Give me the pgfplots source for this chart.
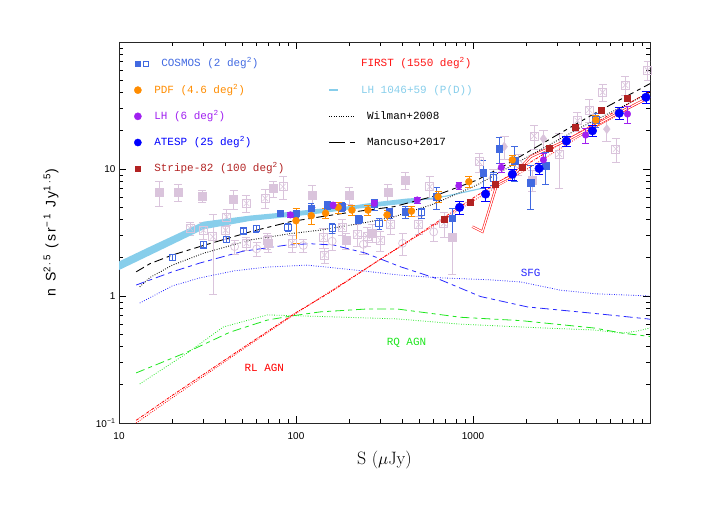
\documentclass[border=0pt]{standalone}
\usepackage{pgfplots}
\pgfplotsset{compat=1.18}
\usepackage{pgfplotstable}
\usepackage{fontspec}
\newfontfamily\monof{Liberation Mono}
\newfontfamily\sansf{Liberation Sans}
\newfontfamily\sanslab[LetterSpace=18]{Liberation Sans}
\definecolor{cosmos}{RGB}{65,105,225}
\definecolor{pdf}{RGB}{255,140,0}
\definecolor{lhc}{RGB}{160,32,240}
\definecolor{atesp}{RGB}{0,0,255}
\definecolor{sk}{RGB}{178,34,34}
\definecolor{first}{RGB}{255,20,20}
\definecolor{pdband}{RGB}{135,206,235}
\definecolor{bg}{RGB}{218,196,220}
\definecolor{sfg}{RGB}{40,40,255}
\definecolor{rq}{RGB}{30,230,30}
\definecolor{rl}{RGB}{255,0,0}

% background compilation
\pgfplotstableread{
x y ep em
16.9 6.55 1.5 1.5
21.5 6.55 1.0 1.0
29.6 6.16 0.7 0.7
44.4 5.8 1.0 1.0
74.1 7.05 1.0 1.0
123 6.24 1.2 1.2
199 6.24 1.0 1.0
330 6.62 1.0 1.0
415 8.18 1.3 1.3
69.5 2.62 0.4 0.4
191 2.75 0.4 0.4
269 3.15 0.5 0.5
764 2.88 1.3 1.4
2150 8.2 1.5 1.5
}\bgsq
\pgfplotstableread{
x y ep em
25.2 3.41 0.4 0.4
33.9 2.93 1.5 1.9
40.6 4.2 0.6 0.6
52.5 5.37 0.8 0.8
67 5.88 1.0 1.0
68.5 2.75 0.4 0.4
94.9 2.6 0.4 0.4
52.5 2.6 0.3 0.3
143 2.89 0.5 0.5
182 3.5 0.5 0.5
221 3.05 0.6 0.6
300 2.75 0.5 0.5
342 3.64 0.6 0.6
494 3.64 0.6 0.6
684 3.73 0.8 0.8
145 2.1 0.3 0.3
252 2.96 0.5 0.5
1080 11.4 2 2
2213 18.2 4 4
3070 13.1 6 6
3890 24 4 4
4530 29.2 6 6
5400 40.2 6 6
6410 14.4 3 3
7250 45.8 8 8
9680 60 10 10
570 7.26 1.5 1.5
84.3 7.26 1.5 1.5
30 3.3 0.5 0.5
40 3.3 0.5 0.5
}\bgx
\pgfplotstableread{
x y ep em
45 2.45 0.3 0.3
60 2.35 0.3 0.3
110 2.5 0.3 0.3
160 2.7 0.4 0.4
240 2.55 0.4 0.4
400 2.6 0.5 0.5
600 3.2 0.5 0.5
1300 8.5 1.5 1.5
1800 11 2 2
}\bgo
\pgfplotstableread{
x y ep em
2500 17.3 3 3
5700 20.6 4 4
1500 15 3 3
}\bgd
% COSMOS open
\pgfplotstableread{
x y ep em
20.1 2.02 0.1 0.1
30 2.55 0.15 0.15
40.4 2.79 0.15 0.15
50.6 3.25 0.15 0.15
59.6 3.39 0.2 0.2
90 3.47 0.25 0.25
160 3.45 0.3 0.3
294 3.73 0.35 0.35
512 4.53 0.4 0.4
1306 8.5 1.0 1.0
4940 24.3 3 3
}\coso
% COSMOS filled
\pgfplotstableread{
x y ep em
81.5 4.48 0.2 0.2
100 4.48 0.3 0.3
122 4.9 0.45 0.45
151 5.2 0.4 0.4
182 5.05 0.4 0.4
226 4.04 0.3 0.3
277 5.27 0.5 0.5
337 4.53 0.4 0.4
415 4.61 0.5 0.5
622 6.05 1.2 1.2
764 4.08 0.8 1.2
1142 9.35 2.3 2.3
1403 14.4 3.3 3.3
1720 11.6 3.5 3.6
2118 7.8 2.9 3.0
2570 10.6 3 3
}\cosf
\pgfplotstableread{
x y ep em
100 3.92 1.0 1.3
122 4.29 0.6 0.6
147 4.48 0.4 0.4
173 4.99 0.5 0.5
207 4.75 0.4 0.4
255 4.75 0.4 0.4
327 4.35 0.4 0.4
449 4.66 0.4 0.4
635 6.05 0.6 0.6
948 7.94 0.8 0.8
1668 11.8 1 1
4940 24.3 2 2
}\pdft
\pgfplotstableread{
x y ep em
92.9 4.35 0.2 0.2
162 5.2 0.3 0.3
277 5.37 0.3 0.3
484 5.7 0.3 0.3
832 7.38 0.5 0.5
1445 10.3 0.8 0.8
2500 11.8 1.5 1.5
4330 18.5 2.5 2.5
7460 27.1 4 4
}\lht
\pgfplotstableread{
x y ep em
840 4.99 0.6 0.6
1178 6.35 0.8 0.8
1668 9.09 0.9 0.9
2362 10.1 1 1
3370 16.6 1.5 1.5
4730 20.0 2 2
6700 27.5 3 3
9480 36.7 4 4
}\atespt
\pgfplotstableread{
x y ep em
684 4.04 0.2 0.2
960 5.47 0.3 0.3
1343 7.62 0.3 0.3
1900 10.4 0.4 0.4
2690 14.6 0.5 0.5
3780 21.5 0.7 0.7
5270 29.2 1 1
7400 36 1.2 1.2
}\skt

\begin{document}
\begin{tikzpicture}
\useasboundingbox (-119bp,-89bp) rectangle (606bp,423bp);
\begin{axis}[
  scale only axis, width=531bp, height=381bp, at={(0,0)}, anchor=south west,
  xmode=log, ymode=log, xmin=10, xmax=10000, ymin=0.1, ymax=100,
  xtick={10,100,1000}, xticklabels={10,100,1000},
  minor xtick={20,30,40,50,60,70,80,90,200,300,400,500,600,700,800,900,2000,3000,4000,5000,6000,7000,8000,9000},
  ytick={0.1,1,10,100}, yticklabels={10\textsuperscript{−1},1,10,{}},
  minor ytick={0.2,0.3,0.4,0.5,0.6,0.7,0.8,0.9,2,3,4,5,6,7,8,9,20,30,40,50,60,70,80,90},
  tick align=inside, major tick length=7bp, minor tick length=4bp,
  tick style={black, line width=0.6bp},
  axis line style={line width=0.9bp, black!85},
  tick label style={font=\sansf\fontsize{10}{12}\selectfont},
  xticklabel style={yshift=-6bp},
  xlabel={S ($\mu$Jy)},
  xlabel style={font=\fontsize{18}{20}\selectfont, at={(axis description cs:0.5,-0.097)}, anchor=center},
  ylabel={n S\textsuperscript{2.5} (sr\textsuperscript{−1} Jy\textsuperscript{1.5})},
  ylabel style={font=\sanslab\fontsize{14}{16}\selectfont, at={(axis description cs:-0.128,0.5)}, anchor=center},
  legend columns=2,
  legend cell align=left,
  legend style={at={(axis description cs:0.028,0.96)}, anchor=north west, draw=none, fill=none,
     font=\monof\fontsize{11}{13}\selectfont, row sep=13.2bp, inner sep=0pt,
     nodes={text height=8bp, text depth=2bp, inner sep=1.5bp},
     /tikz/every odd column/.append style={column sep=4bp},
     /tikz/every even column/.append style={column sep=42bp}},
]
% background points
\addplot[forget plot, only marks, mark=square*, mark size=4bp, color=bg, error bars/.cd, y dir=both, y explicit, error bar style={line width=0.6bp}] table[x=x,y=y,y error plus=ep,y error minus=em] {\bgsq};
\addplot[forget plot, only marks, mark=square, mark size=4bp, color=bg, mark options={line width=0.7bp}, error bars/.cd, y dir=both, y explicit, error bar style={line width=0.6bp}] table[x=x,y=y,y error plus=ep,y error minus=em] {\bgx};
\addplot[forget plot, only marks, mark=x, mark size=4bp, color=bg, mark options={line width=0.6bp}] table[x=x,y=y] {\bgx};
\addplot[forget plot, only marks, mark=o, mark size=4bp, color=bg, mark options={line width=0.7bp}, error bars/.cd, y dir=both, y explicit, error bar style={line width=0.6bp}] table[x=x,y=y,y error plus=ep,y error minus=em] {\bgo};
\addplot[forget plot, only marks, mark=diamond*, mark size=4.5bp, color=bg, error bars/.cd, y dir=both, y explicit, error bar style={line width=0.6bp}] table[x=x,y=y,y error plus=ep,y error minus=em] {\bgd};
% LH P(D) band
\addplot[forget plot, fill=pdband, draw=none] coordinates {(10,1.87)(15,2.45)(30,3.85)(55,4.3)(85,4.55)(137,4.87)(200,5.1)(287,5.5)(420,5.85)(505,5.95)(505,5.45)(420,5.35)(287,5.05)(200,4.8)(137,4.47)(85,4.15)(55,3.9)(30,3.35)(15,2.1)(10,1.6)} -- cycle;
\addplot[forget plot, pdband, line width=1.2bp] coordinates {(500,5.7)(700,6.1)(1100,7.0)};
% models
\addplot[forget plot, sfg, line width=0.8bp, dash pattern=on 9bp off 4bp on 4bp off 4bp] coordinates {(12.5,1.22)(20,1.55)(28.7,1.82)(50,2.25)(89,2.52)(120,2.58)(163,2.52)(246,2.18)(389,1.70)(656,1.34)(1104,0.99)(2035,0.82)(4820,0.73)(9730,0.66)(10000,0.655)};
\addplot[forget plot, sfg, line width=0.8bp, dash pattern=on 0.8bp off 1.6bp] coordinates {(13.1,0.88)(20,1.2)(28.7,1.39)(45,1.58)(69,1.69)(115,1.75)(200,1.62)(389,1.46)(656,1.39)(1250,1.34)(1862,1.29)(3130,1.11)(5000,1.04)(10000,1.0)};
\addplot[forget plot, rq, line width=0.8bp, dash pattern=on 9bp off 4bp on 4bp off 4bp] coordinates {(12.5,0.248)(24.3,0.362)(42.5,0.52)(69,0.647)(96.6,0.70)(137,0.75)(250,0.79)(374,0.79)(851,0.68)(1862,0.64)(4820,0.56)(7000,0.51)(10000,0.48)};
\addplot[forget plot, rq, line width=0.8bp, dash pattern=on 0.8bp off 1.6bp] coordinates {(13.1,0.203)(24.3,0.356)(38.8,0.57)(69,0.71)(96.6,0.70)(137,0.69)(374,0.66)(851,0.60)(2500,0.56)(4790,0.54)(7000,0.51)(8500,0.53)(10000,0.56)};
\addplot[forget plot, rl, line width=0.8bp, dash pattern=on 3bp off 1.2bp on 0.8bp off 1.2bp] coordinates {(12.5,0.105)(20,0.165)(50,0.39)(100,0.74)(156,1.07)(300,1.95)(500,3.1)(1000,5.9)(2000,10.8)(4000,19.5)(10000,41)};
\addplot[forget plot, rl, line width=0.8bp, dash pattern=on 0.8bp off 1.4bp] coordinates {(12.5,0.1)(20,0.158)(50,0.38)(100,0.73)(300,1.95)(1000,5.6)(2000,9.9)(4000,18)(10000,37)};
\addplot[forget plot, black, line width=0.9bp, dash pattern=on 0.8bp off 1.6bp] coordinates {(13.1,1.18)(15,1.4)(20,1.75)(30,2.17)(55,2.76)(93,3.1)(137,3.3)(250,3.8)(357,4.2)(600,5.3)(1057,7.5)(2000,12.3)(4000,21)(10000,40)};
\addplot[forget plot, black, line width=0.9bp, dash pattern=on 9bp off 4bp on 4bp off 4bp] coordinates {(12.5,1.55)(15,1.8)(20,2.1)(30,2.5)(55,3.2)(93,3.85)(137,4.2)(200,4.55)(357,5.05)(600,6.1)(1057,8.2)(1500,10.6)(2860,17.9)(5000,28)(10000,47)};
% FIRST
\addplot[forget plot, first, line width=0.6bp, double=white, double distance=1.2bp] coordinates {(990,3.52)(1130,3.21)(1370,7.7)(1700,9.0)(2118,12.5)(3410,16.9)(6610,27.5)(10000,37)};
% data
\addplot[forget plot, only marks, mark=square, mark size=3.2bp, color=cosmos, mark options={line width=0.8bp}, error bars/.cd, y dir=both, y explicit, error bar style={line width=0.7bp}] table[x=x,y=y,y error plus=ep,y error minus=em] {\coso};
\addplot[forget plot, only marks, mark=square*, mark size=3.2bp, color=cosmos, error bars/.cd, y dir=both, y explicit, error bar style={line width=0.7bp}] table[x=x,y=y,y error plus=ep,y error minus=em] {\cosf};
\addplot[forget plot, only marks, mark=*, mark size=3.5bp, color=pdf, error bars/.cd, y dir=both, y explicit, error bar style={line width=0.7bp}] table[x=x,y=y,y error plus=ep,y error minus=em] {\pdft};
\addplot[forget plot, only marks, mark=*, mark size=3.3bp, color=lhc, error bars/.cd, y dir=both, y explicit, error bar style={line width=0.7bp}] table[x=x,y=y,y error plus=ep,y error minus=em] {\lht};
\addplot[forget plot, only marks, mark=*, mark size=4.3bp, color=atesp, error bars/.cd, y dir=both, y explicit, error bar style={line width=0.7bp}] table[x=x,y=y,y error plus=ep,y error minus=em] {\atespt};
\addplot[forget plot, only marks, mark=square*, mark size=3bp, color=sk, error bars/.cd, y dir=both, y explicit, error bar style={line width=0.7bp}] table[x=x,y=y,y error plus=ep,y error minus=em] {\skt};
% labels
\node[sfg, font=\monof\fontsize{11}{13}\selectfont] at (axis cs:2118,1.52) {SFG};
\node[rq, font=\monof\fontsize{11}{13}\selectfont] at (axis cs:421,0.426) {RQ AGN};
\node[rl, font=\monof\fontsize{11}{13}\selectfont] at (axis cs:66.2,0.271) {RL AGN};
% legend
\addlegendimage{legend image code/.code={\fill[cosmos] (0bp,-2.6bp) rectangle (5.2bp,2.6bp); \draw[cosmos, line width=0.7bp] (8bp,-2.6bp) rectangle (13.2bp,2.6bp);}}
\addlegendentry{\textcolor{cosmos}{\hspace{7bp}COSMOS (2 deg\textsuperscript{2})}}
\addlegendimage{legend image code/.code={\draw[first, line width=0.6bp, double=white, double distance=1.2bp] (0bp,0bp) -- (18bp,0bp);}}
\addlegendentry{\textcolor{first}{FIRST (1550 deg\textsuperscript{2})}}
\addlegendimage{legend image code/.code={\fill[pdf] (2.6bp,0bp) circle (3.6bp);}}
\addlegendentry{\textcolor{pdf}{PDF (4.6 deg\textsuperscript{2})}}
\addlegendimage{legend image code/.code={\draw[pdband, line width=1.5bp] (0bp,0bp) -- (9bp,0bp);}}
\addlegendentry{\textcolor{pdband}{LH 1046+59 (P(D))}}
\addlegendimage{legend image code/.code={\fill[lhc] (2.6bp,0bp) circle (3.6bp);}}
\addlegendentry{\textcolor{lhc}{LH (6 deg\textsuperscript{2})}}
\addlegendimage{legend image code/.code={\draw[black, line width=0.8bp, dash pattern=on 0.8bp off 1.6bp] (0bp,0bp) -- (25bp,0bp);}}
\addlegendentry{\textcolor{black}{\hspace{6bp}Wilman+2008}}
\addlegendimage{legend image code/.code={\fill[atesp] (2.6bp,0bp) circle (3.6bp);}}
\addlegendentry{\textcolor{atesp}{ATESP (25 deg\textsuperscript{2})}}
\addlegendimage{legend image code/.code={\draw[black, line width=0.9bp] (0bp,0bp) -- (16bp,0bp); \draw[black, line width=0.9bp] (21bp,0bp) -- (26bp,0bp);}}
\addlegendentry{\textcolor{black}{\hspace{6bp}Mancuso+2017}}
\addlegendimage{legend image code/.code={\fill[sk] (0bp,-2.6bp) rectangle (5.2bp,2.6bp);}}
\addlegendentry{\textcolor{sk}{Stripe-82 (100 deg\textsuperscript{2})}}
\end{axis}
\end{tikzpicture}
\end{document}
